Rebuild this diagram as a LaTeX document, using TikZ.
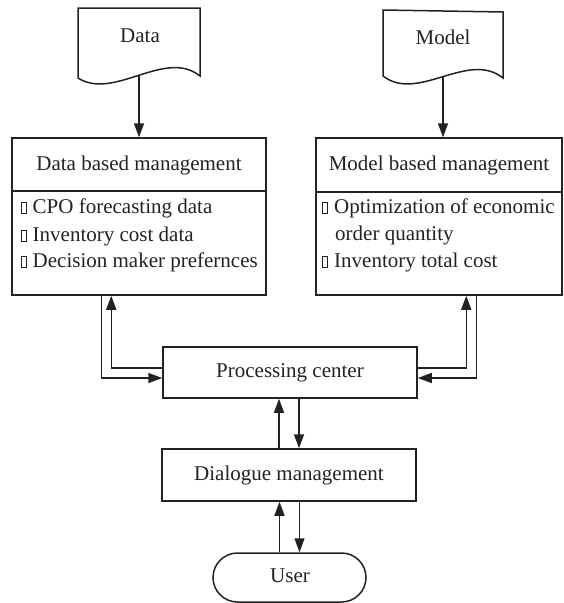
\documentclass[tikz,border=0pt]{standalone}
\usepackage{fontspec}
\setmainfont{Liberation Serif}
\usetikzlibrary{arrows.meta}

% small hollow square used as the list marker
\newcommand\tofu{\begingroup\setlength{\fboxsep}{0pt}\setlength{\fboxrule}{1pt}%
  \fbox{\rule{0pt}{10.5pt}\rule{4pt}{0pt}}\endgroup\hspace{6pt}}

\definecolor{ink}{HTML}{222222}

\tikzset{
  line/.style={draw=ink, line width=1.5pt},
  arr/.style={line, -{Triangle[length=14pt,width=10pt]}},
  box/.style={line, rectangle, inner sep=0pt},
  lbl/.style={text=ink, font=\fontsize{21}{27}\selectfont, inner sep=0pt,
              text height=14pt, text depth=4pt},
  item/.style={lbl, anchor=west},
}

\begin{document}
\begin{tikzpicture}[x=1pt, y=-1pt]
\useasboundingbox (0,0) rectangle (564,603);

% document symbols
\draw[line, shift={(139,44)}]
  (-61,-36) -- (61,-36) -- (61,32)
  .. controls (26,4) and (-25,57) .. (-61,34) -- cycle;
\node[lbl] (datalbl) at (140,37) {Data};
\coordinate (datadoc) at (139,75.5);

\draw[line, shift={(443,45)}]
  (-60,-35) -- (60,-33) -- (60,33)
  .. controls (25,5) and (-25,58) .. (-60,31) -- cycle;
\node[lbl] (modellbl) at (443,39) {Model};
\coordinate (modeldoc) at (443,76.5);

% management boxes
\node[box, minimum width=254pt, minimum height=157pt] (dbm) at (139,216.5) {};
\draw[line] (12,191) -- (266,191);
\node[lbl] (dbmt) at (139,165) {Data based management};
\node[item] (d1) at (20.5,208) {\tofu CPO forecasting data};
\node[item] (d2) at (20.5,236) {\tofu Inventory cost data};
\node[item] (d3) at (20.5,262) {\tofu Decision maker prefernces};

\node[box, minimum width=246pt, minimum height=157pt] (mbm) at (439,216.5) {};
\draw[line] (316,192) -- (562,192);
\node[lbl] (mbmt) at (439,165) {Model based management};
\node[item] (m1) at (322,208) {\tofu Optimization of economic};
\node[item] (m2) at (335,235) {order quantity};
\node[item] (m3) at (322,262) {\tofu Inventory total cost};

% processing chain
\node[box, minimum width=254pt, minimum height=51pt] (pc) at (290,372.5) {};
\node[lbl] (pct) at (290,372) {Processing center};
\node[box, minimum width=254pt, minimum height=52pt] (dm) at (289,475) {};
\node[lbl] (dmt) at (289,475) {Dialogue management};
\node[line, rectangle, rounded corners=24.5pt, minimum width=153pt,
      minimum height=49pt, inner sep=0pt] (user) at (289.5,577.5) {};
\node[lbl] (usert) at (290,577) {User};

% connectors
\draw[arr] (datadoc) -- (datadoc |- dbm.north);
\draw[arr] (modeldoc) -- (modeldoc |- mbm.north);

\draw[arr] ([yshift=4.5pt]pc.west) -| ([xshift=100pt]dbm.south west);
\draw[arr] ([xshift=90pt]dbm.south west) |- ([yshift=-5.5pt]pc.west);
\draw[arr] ([yshift=4.5pt]pc.east) -| ([xshift=151pt]mbm.south west);
\draw[arr] ([xshift=161pt]mbm.south west) |- ([yshift=-5.5pt]pc.east);

\draw[arr] ([xshift=-10pt]dm.north) -- ([xshift=-10pt]dm.north |- pc.south);
\draw[arr] ([xshift=10pt]dm.north |- pc.south) -- ([xshift=10pt]dm.north);

\draw[arr] ([xshift=-10pt]user.north) -- ([xshift=-10pt]user.north |- dm.south);
\draw[arr] ([xshift=10pt]user.north |- dm.south) -- ([xshift=10pt]user.north);
\end{tikzpicture}
\end{document}
